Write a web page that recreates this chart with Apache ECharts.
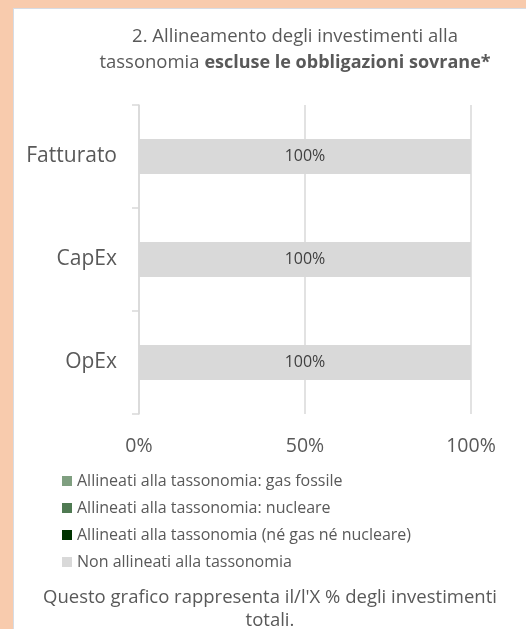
<!DOCTYPE html>
<html>
<head>
    <meta charset="utf-8">
    <title>Allineamento alla tassonomia</title>
    <script src="https://cdn.jsdelivr.net/npm/echarts@6/dist/echarts.min.js"></script>
    <style>
        html, body { margin: 0; padding: 0; }
        body { width: 526px; height: 629px; background: #f8cbad; position: relative; overflow: hidden; }
        /* pannello bianco con bordo grigio a sinistra e in alto */
        #chart { position: absolute; left: 13px; top: 8px; width: 512px; height: 620px;
                 background: #ffffff; border-left: 1px solid #d6dce4; border-top: 1px solid #d6dce4; }
    </style>
</head>
<body>
<div id="chart"></div>
<script type="text/javascript">
    // dati del grafico
    var categorie = ['Fatturato', 'CapEx', 'OpEx'];
    var nomiSerie = [
        'Allineati alla tassonomia: gas fossile',
        'Allineati alla tassonomia: nucleare',
        'Allineati alla tassonomia (né gas né nucleare)',
        'Non allineati alla tassonomia'
    ];
    var gasFossile = [0, 0, 0];
    var nucleare = [0, 0, 0];
    var altriAllineati = [0, 0, 0];
    var nonAllineati = [100, 100, 100];
    var tickX = [0, 50, 100];
    var colori = ['#7f9f80', '#4f7a52', '#003300', '#d9d9d9'];

    var valori = [gasFossile, nucleare, altriAllineati, nonAllineati];
    var font = '"Open Sans", sans-serif';
    var grigio = '#595959';

    var myChart = echarts.init(document.getElementById('chart'));

    var serie = nomiSerie.map(function (nome, i) {
        return {
            name: nome,
            type: 'bar',
            stack: 'tot',
            barWidth: 35,
            itemStyle: { color: colori[i] },
            label: {
                show: true,
                position: 'inside',
                color: '#404040',
                fontFamily: font,
                fontSize: 16,
                formatter: function (p) { return p.value > 0 ? p.value + '%' : ''; }
            },
            data: valori[i]
        };
    });

    myChart.setOption({
        animation: false,
        textStyle: { fontFamily: font },
        title: [{
            text: '2. Allineamento degli investimenti alla\ntassonomia {b|escluse le obbligazioni sovrane*}',
            left: 276,
            top: 10,
            textAlign: 'center',
            textStyle: {
                color: grigio,
                fontFamily: font,
                fontSize: 18.5,
                fontWeight: 'normal',
                lineHeight: 26,
                align: 'center',
                rich: {
                    b: { fontWeight: 'bold', fontSize: 18, color: grigio, fontFamily: font, lineHeight: 26 }
                }
            }
        }, {
            text: "Questo grafico rappresenta il/l'X % degli investimenti\ntotali.",
            left: 251,
            top: 572,
            textAlign: 'center',
            textStyle: {
                color: grigio,
                fontFamily: font,
                fontSize: 18.5,
                fontWeight: 'normal',
                lineHeight: 23,
                align: 'center'
            }
        }],
        legend: {
            orient: 'vertical',
            left: 43,
            top: 459,
            itemWidth: 10,
            itemHeight: 10,
            itemGap: 11,
            icon: 'rect',
            textStyle: { color: grigio, fontFamily: font, fontSize: 16 },
            data: nomiSerie
        },
        grid: {
            left: 125,
            right: 55,
            top: 96,
            height: 309
        },
        xAxis: {
            type: 'value',
            min: tickX[0],
            max: tickX[tickX.length - 1],
            interval: tickX[1] - tickX[0],
            axisLine: { show: false },
            axisTick: { show: false },
            axisLabel: {
                color: grigio,
                fontFamily: font,
                fontSize: 19.5,
                margin: 22,
                formatter: '{value}%'
            },
            splitLine: { show: true, lineStyle: { color: '#d9d9d9', width: 1.5 } }
        },
        yAxis: {
            type: 'category',
            inverse: true,
            data: categorie,
            axisLine: { show: true, lineStyle: { color: '#d9d9d9', width: 1.5 } },
            axisTick: { show: true, length: 7, alignWithLabel: false, lineStyle: { color: '#d9d9d9', width: 1.5 } },
            axisLabel: {
                color: grigio,
                fontFamily: font,
                fontSize: 21,
                margin: 22
            }
        },
        series: serie
    });
</script>
</body>
</html>
